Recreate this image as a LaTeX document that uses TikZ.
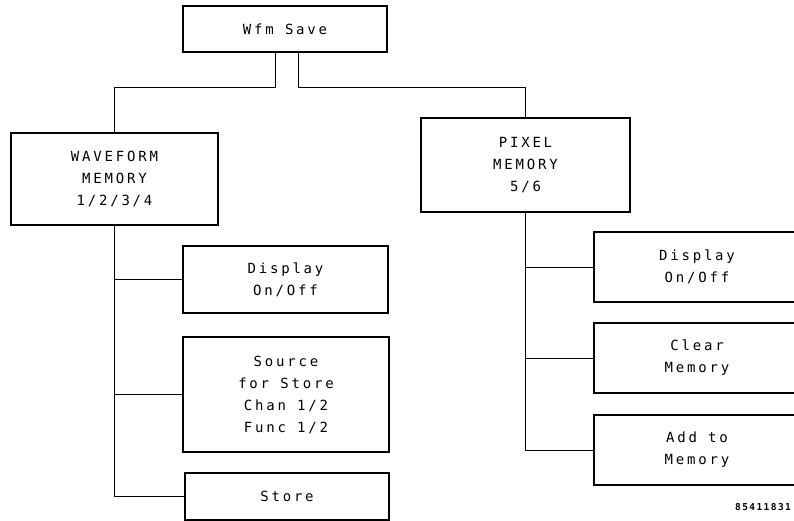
\documentclass[tikz,border=0pt]{standalone}
\usepackage{fontspec}
\usepackage{tikz}
\newfontfamily\plotfont[LetterSpace=20]{DejaVu Sans Mono}
\newfontfamily\refnofont[LetterSpace=15]{DejaVu Sans Mono}

\begin{document}
\begin{tikzpicture}[x=1pt, y=-1pt,
    boite/.style={draw, line width=1.3pt, inner sep=0pt, align=center,
        font=\plotfont\fontsize{14}{22}\selectfont},
    lien/.style={line width=0.8pt}]

    \useasboundingbox (0,0) rectangle (794,521);
    \clip (0,0) rectangle (794,521);

    % Menu principal
    \node[boite, minimum width=204pt, minimum height=46pt] (save) at (285,29) {Wfm Save};

    % Deux sous-menus
    \node[boite, minimum width=207pt, minimum height=92pt] (wave) at (114.5,179) {WAVEFORM\\MEMORY\\1/2/3/4};
    \node[boite, minimum width=209pt, minimum height=94pt] (pixel) at (525.5,165) {PIXEL\\MEMORY\\5/6};

    % Touches à gauche
    \node[boite, minimum width=205pt, minimum height=67pt] (ldisp) at (285.5,279.5) {Display\\On/Off};
    \node[boite, minimum width=206pt, minimum height=115pt] (lsrc) at (286,394.5) {Source\\for Store\\Chan 1/2\\Func 1/2};
    \node[boite, minimum width=204pt, minimum height=47pt] (lstore) at (287,496.5) {Store};

    % Touches à droite (coupées au bord)
    \node[boite, minimum width=206pt, minimum height=70pt] (rdisp) at (697,267) {Display\\On/Off};
    \node[boite, minimum width=206pt, minimum height=70pt] (rclear) at (697,358) {Clear\\Memory};
    \node[boite, minimum width=206pt, minimum height=70pt] (radd) at (697,450) {Add to\\Memory};

    % Numéro de figure
    \node[font={\refnofont\bfseries\fontsize{9.5}{9.5}\selectfont}] (refno) at (763,507) {85411831};

    % Liaisons du haut
    \coordinate (jg) at (114.5,87);
    \coordinate (jd) at (525.5,87);
    \draw[lien] ([xshift=-10pt]save.south) |- (jg) -- (wave.north);
    \draw[lien] ([xshift=13pt]save.south) |- (jd) -- (pixel.north);

    % Tronc gauche
    \draw[lien] (wave.south) |- (lstore.west);
    \draw[lien] (wave.south |- ldisp.west) -- (ldisp.west);
    \draw[lien] (wave.south |- lsrc.west) -- (lsrc.west);

    % Tronc droit
    \draw[lien] (pixel.south) |- (radd.west);
    \draw[lien] (pixel.south |- rdisp.west) -- (rdisp.west);
    \draw[lien] (pixel.south |- rclear.west) -- (rclear.west);

\end{tikzpicture}
\end{document}
